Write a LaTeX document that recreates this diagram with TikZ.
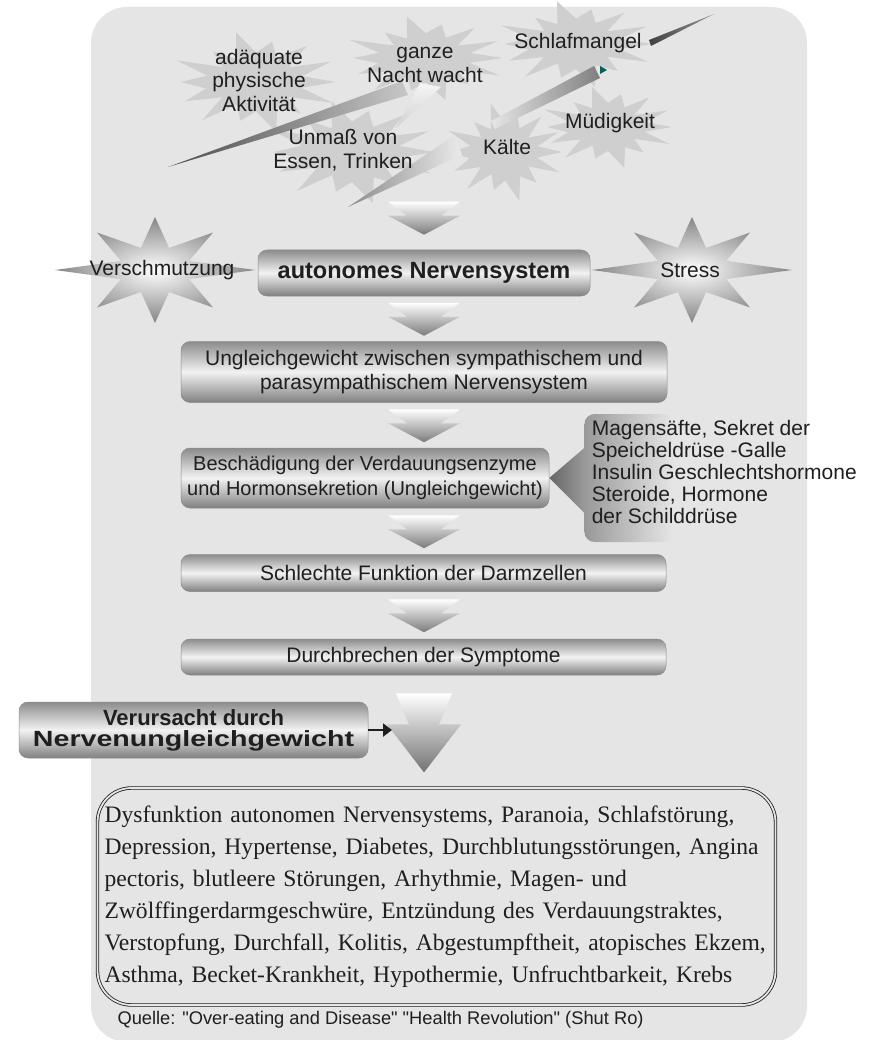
\documentclass[tikz,border=0pt]{standalone}
\usepackage{fontspec}
\usepackage{graphicx}
\setmainfont{Liberation Sans}
\newfontfamily\listfont{Liberation Serif}
\usetikzlibrary{positioning,calc,arrows.meta}
\definecolor{panel gray}{gray}{0.9}
\definecolor{burst gray}{gray}{0.81}
\definecolor{ink}{gray}{0.12}
\newcommand\boxfont{\fontsize{21pt}{24.5pt}\selectfont}
\newcommand\headfont{\bfseries\fontsize{23.5pt}{26pt}\selectfont}
\newcommand\burst[4]{%
  \begin{scope}[shift={(#1,#2)},xscale=#3,yscale=#4]
    \fill[burst gray] (0:1.05) \foreach \k in {1,...,13} {
      -- ({(\k-0.5)*360/14}:{0.62+0.07*cos(\k*97)}) -- ({\k*360/14}:{1.05+0.14*sin(\k*151)})}
      -- ({13.5*360/14}:0.62) -- cycle;
  \end{scope}}
\newcommand\silverstar[2]{%
  \begin{scope}[shift={(#1,#2)},xscale=82,yscale=53]
    \shade[inner color=white, outer color=black!48] (0:1.22)
      \foreach \a/\r in {22.5/1,67.5/1,112.5/1,157.5/1.22,202.5/1,247.5/1,292.5/1,337.5/1.22}
        { -- (\a:0.45) -- ({\a+22.5}:\r) } -- cycle;
  \end{scope}}

\begin{document}
\begin{tikzpicture}[x=1pt, y=-1pt,
    every node/.style={text=ink},
    flow box/.style={draw=black!45, line width=0.5pt, rounded corners=9pt,
        top color=black!45, bottom color=black!50, middle color=black!5,
        align=center, font=\boxfont, inner sep=0pt},
    burst text/.style={align=center, font=\fontsize{21pt}{23.5pt}\selectfont},
    chevron/.pic={\shade[top color=white, bottom color=black!52]
        (-36,-16) -- (36,-16) -- (17,-2) -- (36,-2) -- (0,17) -- (-36,-2) -- (-17,-2) -- cycle;},
    big arrow/.pic={\shade[top color=white, bottom color=black!55]
        (-28,-38) -- (28,-38) -- (15,-7) -- (37,-7) -- (0,41) -- (-37,-7) -- (-15,-7) -- cycle;}
]
    \useasboundingbox (0,0) rectangle (873,1040);
    \fill[panel gray, rounded corners=36pt] (91,7) rectangle (807,1042);

    \burst{256}{82}{76}{43}
    \burst{426}{58}{73}{36}
    \burst{576}{44}{72}{37}
    \burst{352}{152}{78}{44}
    \burst{505}{152}{54}{42}
    \burst{608}{127}{61}{35}

    \shade[top color=black!4, bottom color=black!18] (420,83) -- (441,87) -- (396,128) -- cycle;
    \shade[left color=black!45, right color=black!8] (348,207) -- (455,135) -- (462,155) -- cycle;
    \shade[left color=black!70, right color=black!22] (168,167) -- (402,81) -- (408,95) -- cycle;
    \shade[left color=black!10, right color=black!50] (491,121) -- (594,66) -- (600,78) -- (495,129) -- cycle;
    \shade[left color=black!75, right color=black!40] (649,40) -- (714,14) -- (651,46) -- cycle;
    \fill[teal!75!black] (600,66) -- (607,70) -- (600,74) -- cycle;

    \node[burst text] (activity) at (259,80) {adäquate\\physische\\Aktivität};
    \node[burst text] (night) at (425,65) {ganze\\Nacht wacht};
    \node[burst text] (sleep) at (578,43) {Schlafmangel};
    \node[burst text] (excess) at (343,150) {Unmaß von\\Essen, Trinken};
    \node[burst text] (cold) at (507,147) {Kälte};
    \node[burst text] (fatigue) at (610,123) {Müdigkeit};

    \silverstar{155}{270}
    \silverstar{692}{270}
    \node[burst text] (pollution) at (162,270) {Verschmutzung};
    \node[burst text] (stress) at (690,270) {Stress};

    \node[flow box, minimum width=332pt, minimum height=46pt, font=\headfont] (autonomic box) at (424,273) {autonomes Nervensystem};
    \node[flow box, minimum width=486pt, minimum height=61pt, below=45pt of autonomic box] (imbalance box)
        {Ungleichgewicht zwischen sympathischem und\\parasympathischem Nervensystem};
    \node[flow box, minimum width=368pt, minimum height=60pt, font=\fontsize{20pt}{24.5pt}\selectfont,
        below=45pt of imbalance box.south west, anchor=north west] (enzyme box)
        {Beschädigung der Verdauungsenzyme\\und Hormonsekretion (Ungleichgewicht)};
    \node[flow box, minimum width=485pt, minimum height=37pt, below=46pt of enzyme box.south west, anchor=north west] (gut box)
        {Schlechte Funktion der Darmzellen};
    \node[flow box, minimum width=485pt, minimum height=36pt, below=47pt of gut box] (symptom box)
        {Durchbrechen der Symptome};

    \node[minimum width=89pt, minimum height=128pt, rounded corners=10pt,
        left color=black!40, right color=panel gray, right=35pt of enzyme box] (hormone back) {};
    \shade[left color=black!60, right color=black!40]
        ([yshift=30pt]hormone back.west) -- (enzyme box.east) -- ([yshift=-35pt]hormone back.west) -- cycle;
    \node[anchor=west, align=left, font=\fontsize{21pt}{22pt}\selectfont] (hormone text)
        at ([xshift=4pt,yshift=6pt]hormone back.west)
        {Magensäfte, Sekret der\\Speicheldrüse -Galle\\Insulin Geschlechtshormone\\Steroide, Hormone\\der Schilddrüse};

    \pic at ([yshift=32pt]autonomic box.north) {chevron};
    \foreach \upperbox/\lowerbox in {autonomic box/imbalance box, imbalance box/enzyme box,
        enzyme box/gut box, gut box/symptom box} {
        \path (\upperbox.south) -- (\lowerbox.north) coordinate[midway] (gap);
        \pic at (autonomic box |- gap) {chevron};
    }

    \node[draw=ink, double=panel gray, double distance=1.8pt, line width=0.8pt, rounded corners=34pt,
        minimum height=217pt, text width=664pt, inner xsep=7pt, align=left,
        font=\listfont\fontsize{23.6pt}{32pt}\selectfont] (symptom list) at (436.5,896.5)
        {Dysfunktion autonomen Nervensystems, Paranoia, Schlafstörung,\\
         Depression, Hypertense, Diabetes, Durchblutungsstörungen, Angina\\
         pectoris, blutleere Störungen, Arhythmie, Magen- und\\
         Zwölffingerdarmgeschwüre, Entzündung des Verdauungstraktes,\\
         Verstopfung, Durchfall, Kolitis, Abgestumpftheit, atopisches Ekzem,\\
         Asthma, Becket-Krankheit, Hypothermie, Unfruchtbarkeit, Krebs};
    \node[anchor=west, font=\fontsize{18.3pt}{20pt}\selectfont] (source note) at (114,1020)
        {Quelle: \textquotedbl Over-eating and Disease\textquotedbl{} \textquotedbl Health Revolution\textquotedbl{} (Shut Ro)};

    \path (symptom box.south) -- (symptom list.north) coordinate[midway] (big gap);
    \pic at (autonomic box |- big gap) {big arrow};
    \path (autonomic box |- big gap) ++(-32,0) coordinate (big arrow in);

    \node[flow box, minimum width=349pt, minimum height=56pt, font=\bfseries\fontsize{22pt}{21pt}\selectfont] (cause box)
        at (193.5,730) {Verursacht durch\\\scalebox{1.3}[1]{Nervenungleichgewicht}};
    \draw[ink, line width=2.6pt, -{Triangle[length=9pt,width=13pt]}] (cause box.east) -- (cause box.east -| big arrow in);
\end{tikzpicture}
\end{document}
